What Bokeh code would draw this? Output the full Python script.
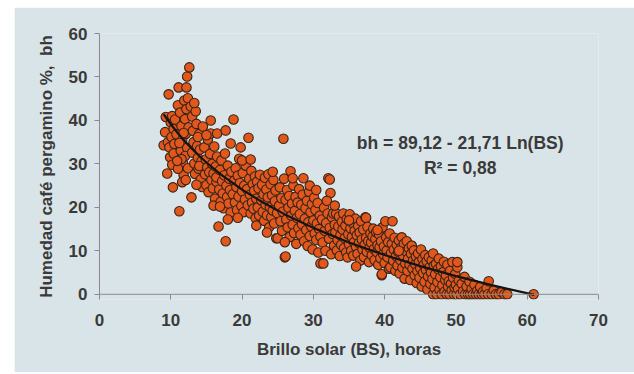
from bokeh.plotting import figure
from bokeh.models import Range1d, Label, FixedTicker, ColumnDataSource, Span
from bokeh.layouts import column
from bokeh.embed import file_html
from bokeh.resources import INLINE

# ---- data: (Brillo solar BS [h], humedad bh [%]) ----
grupo_a = [(9.0,34.3),(9.2,37.3),(9.5,27.8),(9.7,46.0),(9.3,40.8),(9.6,35.0),(9.8,33.8),(10.0,39.5),(10.1,36.2),
           (10.2,41.0),(10.3,24.6),(9.9,31.5),(10.4,38.0),(10.5,34.6),(10.2,29.8),(10.6,40.2),(10.4,32.4),(10.8,36.8)]
grupo_b = [(11.1,47.6),(11.2,19.1),(11.0,43.5),(11.3,41.8),(11.5,38.7),(11.6,35.5),(11.4,33.0),(11.7,30.2),(11.8,27.4),
           (11.0,28.9),(11.9,44.6),(12.0,40.3),(12.2,47.6),(12.1,36.9),(12.3,50.1),(12.4,45.1),(12.2,42.6),(12.5,38.4),
           (12.3,33.7),(12.0,31.8),(12.4,29.0),(11.6,25.8),(12.6,52.2),(11.8,37.1),(11.2,34.8),(11.5,31.1),(10.9,30.7),(12.1,26.3)]
grupo_c = [(12.9,22.3),(12.8,43.2),(13.0,40.9),(13.1,37.6),(13.2,35.0),(13.0,32.6),(13.3,30.1),(13.4,27.7),(13.5,42.1),
           (13.6,39.2),(13.7,34.1),(13.8,31.4),(13.9,28.9),(14.0,36.9),(14.1,33.3),(14.2,26.4),(14.3,30.6),(14.4,24.7),
           (13.6,25.2),(14.5,38.6),(13.3,44.0),(14.0,29.5),(13.8,36.2)]
grupo_d = [(14.7,33.8),(14.8,27.6),(14.9,31.0),(15.0,25.1),(15.1,29.2),(15.2,35.6),(15.3,23.5),(15.4,28.1),(15.5,32.3),
           (15.6,40.0),(15.6,37.0),(15.7,26.3),(15.8,30.0),(15.9,24.4),(16.0,27.8),(16.1,34.0),(16.2,22.0),(16.3,29.4),
           (16.4,25.9),(16.5,37.0),(16.5,31.7),(15.0,36.6),(16.0,20.4),(16.4,26.9)]
grupo_e = [(16.7,15.6),(16.8,24.1),(16.9,28.6),(17.0,21.3),(17.1,30.8),(17.2,26.0),(17.3,23.2),(17.4,19.8),(17.5,27.4),
           (17.7,37.7),(17.7,12.2),(17.8,25.0),(17.9,22.4),(18.0,29.6),(18.1,20.9),(18.2,26.6),(18.3,24.0),(18.4,34.7),
           (18.4,18.8),(18.5,28.2),(17.6,32.4),(18.0,17.2),(16.9,20.2)]
grupo_f = [(18.8,40.2),(18.7,23.0),(18.9,26.1),(19.0,21.1),(19.1,29.0),(19.2,24.7),(19.3,19.4),(19.4,27.3),(19.5,22.5),
           (19.6,31.2),(19.8,33.8),(19.7,25.6),(19.9,20.3),(20.0,23.7),(20.1,27.9),(20.2,18.9),(20.3,25.0),(20.4,21.8),
           (20.5,29.6),(19.4,17.6),(20.0,30.8)]
grupo_g = [(20.9,36.0),(20.7,24.2),(20.8,20.5),(21.0,26.6),(21.1,22.9),(21.2,18.6),(21.3,28.4),(21.4,21.1),(21.5,25.3),
           (21.6,19.7),(21.7,23.8),(21.8,27.1),(21.9,17.5),(22.0,22.0),(22.1,25.9),(22.2,20.0),(22.3,24.4),(22.4,18.1),
           (22.5,27.5),(21.2,31.0),(22.0,15.8)]
grupo_h = [(22.7,21.6),(22.8,25.2),(22.9,19.0),(23.0,23.0),(23.1,16.9),(23.2,26.8),(23.3,20.6),(23.4,24.1),(23.5,18.2),
           (23.6,22.3),(23.7,27.6),(23.8,15.4),(23.9,20.0),(24.0,25.3),(24.1,17.8),(24.2,22.8),(24.3,19.3),(24.4,26.3),
           (24.5,16.3),(24.6,21.4),(24.7,23.9),(24.8,12.9),(24.9,18.7),(25.0,12.9),(23.5,14.2),(24.3,28.2)]
grupo_i = [(25.2,20.4),(25.3,24.6),(25.4,16.8),(25.5,22.1),(25.6,14.6),(25.8,35.8),(25.7,19.0),(25.9,26.6),(26.0,8.5),
           (26.1,8.7),(26.1,21.7),(26.2,17.2),(26.3,24.0),(26.4,15.4),(26.5,19.9),(26.6,22.6),(26.7,13.2),(26.8,28.3),
           (26.9,18.1),(27.0,20.9),(27.1,16.0),(27.2,25.0),(27.3,14.1),(27.4,19.2),(27.5,22.4),(27.6,11.6),(27.7,17.6),
           (27.8,21.1),(27.9,15.2),(28.0,24.2),(26.0,12.0),(27.1,26.7)]
grupo_j = [(28.1,18.4),(28.2,13.7),(28.3,20.6),(28.4,16.1),(28.5,22.9),(28.6,26.7),(28.7,12.2),(28.8,17.4),(28.9,19.8),
           (29.0,14.8),(29.1,21.5),(29.2,11.1),(29.3,16.6),(29.4,23.6),(29.5,13.4),(29.6,18.9),(29.7,15.6),(29.8,20.7),
           (29.9,10.3),(30.0,17.0),(30.1,22.2),(30.2,14.0),(30.3,19.4),(30.4,12.5),(30.5,16.3),(30.6,21.0),(30.7,9.6),
           (30.8,15.0),(30.9,18.1),(31.0,7.1),(31.0,13.3),(31.4,7.1),(29.5,25.0),(30.4,24.0)]
grupo_k = [(31.2,17.2),(31.3,11.9),(31.5,19.9),(31.6,14.6),(31.7,10.0),(31.8,16.4),(32.0,18.6),(32.1,26.7),(32.3,26.4),
           (32.4,23.3),(32.2,12.8),(32.3,15.3),(32.5,9.2),(32.6,17.8),(32.7,13.9),(32.8,18.6),(32.9,11.2),(33.0,16.0),
           (33.1,14.3),(33.2,18.6),(33.3,10.1),(33.4,12.5),(33.5,15.6),(33.6,17.9),(33.7,8.8),(33.8,13.6),(33.9,11.4),
           (34.0,16.7),(34.1,14.9),(34.2,18.6),(34.3,10.6),(34.4,12.9),(34.5,15.8),(34.6,9.6),(34.7,17.3),(34.8,8.5),
           (34.9,13.8),(35.0,11.5),(35.1,18.4),(31.9,21.5),(33.0,20.4)]
grupo_l = [(35.2,15.2),(35.3,10.0),(35.4,13.2),(35.5,16.4),(35.6,8.9),(35.7,12.0),(35.8,14.6),(35.9,17.4),(36.0,10.9),
           (36.1,13.6),(36.2,9.3),(36.3,15.7),(36.4,11.8),(36.5,14.2),(36.6,7.8),(36.7,16.8),(36.8,12.6),(36.9,10.3),
           (37.0,14.9),(37.1,8.6),(37.3,17.7),(37.4,17.6),(37.2,11.4),(37.4,13.0),(37.5,9.8),(37.6,15.5),(37.7,12.2),
           (37.8,7.4),(37.9,10.7),(38.0,14.0),(36.0,6.4),(35.0,17.0)]
grupo_m = [(38.1,11.9),(38.2,9.0),(38.3,13.3),(38.4,15.1),(38.5,10.4),(38.6,7.9),(38.7,12.7),(38.8,14.3),(38.9,9.7),
           (39.0,11.3),(39.1,6.8),(39.2,13.8),(39.3,10.8),(39.4,8.3),(39.6,4.4),(39.6,4.6),(39.5,12.2),(39.7,15.4),
           (39.8,9.2),(39.9,11.0),(40.0,7.2),(40.1,16.8),(40.2,13.1),(40.3,10.1),(40.4,8.5),(40.5,12.0),(40.6,5.9),
           (40.7,14.0),(40.8,6.2),(40.9,9.5),(41.0,11.6),(41.1,16.8),(39.0,14.8)]
grupo_n = [(41.2,7.7),(41.3,10.3),(41.4,13.0),(41.5,5.4),(41.6,8.8),(41.7,11.4),(41.8,6.6),(41.9,9.8),(42.0,12.4),
           (42.1,4.8),(42.2,7.9),(42.3,10.7),(42.4,13.1),(42.5,6.1),(42.6,8.9),(42.7,11.6),(42.8,3.6),(42.9,7.1),
           (43.0,9.9),(43.1,12.2),(43.2,5.4),(43.3,8.2),(43.4,10.6),(43.5,6.8),(43.6,3.3),(43.7,9.3),(43.8,11.2),
           (43.9,5.9),(44.0,7.8),(42.0,10.0)]
grupo_o = [(44.1,10.1),(44.2,4.4),(44.3,6.9),(44.4,8.7),(44.5,2.6),(44.6,5.3),(44.7,9.4),(44.8,7.4),(44.9,3.8),
           (45.0,6.0),(45.1,10.3),(45.2,1.8),(45.3,8.1),(45.4,4.9),(45.5,6.8),(45.6,2.9),(45.7,9.0),(45.8,5.6),
           (45.9,7.6),(46.0,1.1),(46.1,4.1),(46.2,8.5),(46.3,6.2),(46.4,2.4),(46.5,5.0),(46.6,7.8),(46.8,9.4),
           (46.7,3.5),(46.8,0.0),(46.9,6.6)]
grupo_p = [(47.0,1.5),(47.1,4.6),(47.2,7.0),(47.3,0.0),(47.4,2.8),(47.5,5.8),(47.6,8.2),(47.7,1.0),(47.8,3.9),
           (47.9,6.4),(48.0,0.0),(48.1,2.1),(48.2,5.1),(48.3,7.5),(48.4,0.6),(48.5,3.3),(48.6,4.4),(48.7,0.0),
           (48.8,6.8),(48.9,1.8),(49.0,3.0),(49.1,0.0),(49.2,5.4),(49.3,2.4),(49.4,0.9),(49.5,7.4),(49.6,3.8),
           (49.7,0.0),(49.8,1.6),(49.9,4.7),(50.0,2.2),(50.1,0.0),(50.2,6.2),(50.3,1.2),(50.2,7.4),(50.4,3.2)]
grupo_q = [(50.6,0.0),(50.8,2.4),(51.0,0.7),(51.2,4.0),(51.3,0.0),(51.5,1.8),(51.7,0.0),(51.9,2.9),(52.0,0.0),
           (52.2,1.2),(52.4,0.0),(52.6,2.2),(52.8,0.0),(53.0,0.8),(53.2,0.0),(53.4,1.7),(53.6,0.0),(53.8,0.6),
           (54.0,0.0),(54.3,1.4),(54.6,3.0),(54.5,0.0),(55.0,0.0),(55.3,0.9),(55.6,0.0),(56.0,0.0),(56.4,0.5),
           (56.8,0.0),(57.2,0.0),(60.9,0.0)]

# trend line values (bh = 89,12 - 21,71 Ln(BS)) read at these BS values
tend_bs = [9, 10, 11, 12, 13, 14, 15, 17, 20, 23, 26, 30, 35, 40, 45, 50, 55, 61]
tend_bh = [41.42, 39.13, 37.06, 35.17, 33.44, 31.83, 30.32, 27.61, 24.08, 21.05, 18.38, 15.28,
           11.93, 9.03, 6.47, 4.19, 2.12, -0.13]

x_ticks = [0, 10, 20, 30, 40, 50, 60, 70]
y_ticks = [0, 10, 20, 30, 40, 50, 60]

ecuacion = "bh = 89,12 - 21,71 Ln(BS)"
r2_texto = "R\u00b2 = 0,88"
titulo_x = "Brillo solar (BS), horas"
titulo_y = "Humedad café pergamino %,\u00a0 bh"

grupos = [grupo_a, grupo_b, grupo_c, grupo_d, grupo_e, grupo_f, grupo_g, grupo_h, grupo_i,
          grupo_j, grupo_k, grupo_l, grupo_m, grupo_n, grupo_o, grupo_p, grupo_q]
bs = [pt[0] for g in grupos for pt in g]
bh = [pt[1] for g in grupos for pt in g]

PANEL = "#d9e4e8"
TXT = "#3a3a3a"
AXC = "#8a8a8a"
FONT = "Liberation Sans"

p = figure(width=620, height=365, output_backend="svg", toolbar_location=None,
           x_range=Range1d(0, 70), y_range=Range1d(-1.2, 60),
           min_border_left=85, min_border_right=36, min_border_top=26, min_border_bottom=73,
           background_fill_color=PANEL, border_fill_color=PANEL, outline_line_color=None)
p.xgrid.visible = False
p.ygrid.visible = False

# x axis line at bh = 0
p.add_layout(Span(location=0, dimension="width", line_color=AXC, line_width=1))

src = ColumnDataSource(dict(bs=bs, bh=bh))
p.scatter("bs", "bh", source=src, size=9.5, fill_color="#e2581c", line_color="#3a2414", line_width=1.1)
p.line(tend_bs, tend_bh, line_color="#141414", line_width=2.2)

def estilo(ax):
    ax.major_label_text_font = FONT
    ax.major_label_text_font_style = "bold"
    ax.major_label_text_font_size = "17px"
    ax.major_label_text_color = TXT
    ax.axis_label_text_font = FONT
    ax.axis_label_text_font_style = "bold"
    ax.axis_label_text_font_size = "17px"
    ax.axis_label_text_color = TXT
    ax.minor_tick_out = 0
    ax.minor_tick_in = 0

# y axis (left)
ya = p.yaxis[0]
estilo(ya)
ya.ticker = FixedTicker(ticks=y_ticks)
ya.bounds = (0, 60)
ya.axis_line_color = AXC
ya.major_tick_line_color = AXC
ya.major_tick_out = 5
ya.major_tick_in = 0
ya.major_label_standoff = 7
ya.axis_label = titulo_y
ya.axis_label_standoff = 10

# x axis at frame bottom (5 px below bh = 0): ticks reach up to the zero line
xa = p.xaxis[0]
estilo(xa)
xa.ticker = FixedTicker(ticks=x_ticks)
xa.axis_line_color = None
xa.major_tick_line_color = AXC
xa.major_tick_out = 0
xa.major_tick_in = 5
xa.major_label_standoff = 14
xa.axis_label = titulo_x
xa.axis_label_standoff = 11

p.add_layout(Label(x=50.6, y=34.7, text=ecuacion, text_align="center", text_baseline="middle",
                   text_font=FONT, text_font_style="bold", text_font_size="17.5px", text_color=TXT))
p.add_layout(Label(x=50.6, y=29.0, text=r2_texto, text_align="center", text_baseline="middle",
                   text_font=FONT, text_font_style="bold", text_font_size="17.5px", text_color=TXT))

barra = figure(width=620, height=2, output_backend="svg", toolbar_location=None,
               min_border=0, border_fill_color="#e8825f", background_fill_color="#e8825f",
               outline_line_color=None, x_axis_type=None, y_axis_type=None)
barra.xgrid.visible = False
barra.ygrid.visible = False

layout = column(p, barra, spacing=0, margin=(7, 0, 0, 14))

open("out.html", "w").write(file_html(layout, INLINE))
